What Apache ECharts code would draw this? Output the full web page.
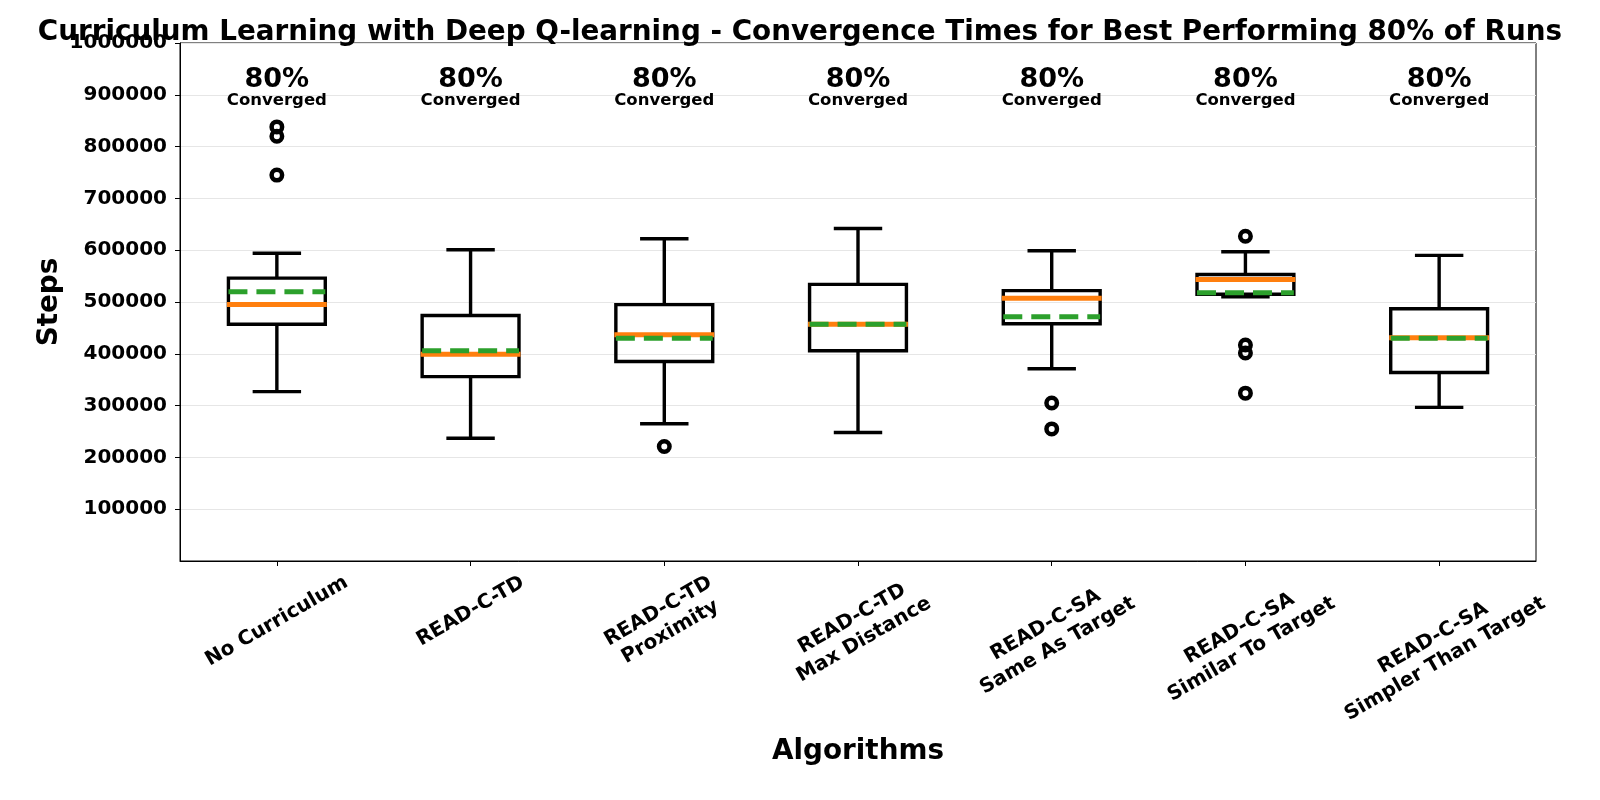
<!DOCTYPE html>
<html>
<head>
<meta charset="utf-8">
<script src="https://cdn.jsdelivr.net/npm/echarts@6/dist/echarts.min.js"></script>
<style>
  html, body { margin: 0; padding: 0; background: #fff; }
  #chart { width: 1600px; height: 800px; }
</style>
</head>
<body>
<div id="chart"></div>
<script>
// ---------------- data ----------------
const categories = [
  'No Curriculum',
  'READ-C-TD',
  'READ-C-TD\nProximity',
  'READ-C-TD\nMax Distance',
  'READ-C-SA\nSame As Target',
  'READ-C-SA\nSimilar To Target',
  'READ-C-SA\nSimpler Than Target'
];
const whiskerLow  = [327000, 237000, 265000, 248000, 371000, 510000, 296500];
const q1          = [457000, 356000, 385000, 406000, 458000, 515000, 364000];
const median      = [495000, 399000, 437000, 457000, 507000, 543500, 431000];
const q3          = [546000, 474000, 495000, 534000, 522000, 553000, 487000];
const whiskerHigh = [594000, 601000, 622000, 642000, 599000, 597000, 590000];
const mean        = [520000, 406000, 430000, 457000, 471500, 518000, 430000];
const outlierCategory = [0, 0, 0, 2, 4, 4, 5, 5, 5, 5];
const outlierValue    = [838000, 820000, 745000, 221000, 305000, 255000, 627000, 417000, 401500, 324000];
const convergedPct = ['80%', '80%', '80%', '80%', '80%', '80%', '80%'];
const yTicks = [100000, 200000, 300000, 400000, 500000, 600000, 700000, 800000, 900000, 1000000];

// ---------------- layout helpers ----------------
const FONT = 'DejaVu Sans';
const PCT_Y = 928000;      // annotation anchor (axis units)
const CONV_Y = 888000;
const LABEL_FS = 20, LABEL_LH = 24, LABEL_PAD = 9.7;
const rad = Math.PI / 6;
const ctx = document.createElement('canvas').getContext('2d');
ctx.font = 'bold ' + LABEL_FS + 'px "' + FONT + '"';
// matplotlib centres the rotated label box on the tick, its top at a fixed pad below the axis
const labelInfo = categories.map(c => {
  const lines = c.split('\n');
  const W = Math.max.apply(null, lines.map(l => ctx.measureText(l).width));
  const H = lines.length * LABEL_LH;
  const hb = W * Math.sin(rad) + H * Math.cos(rad);
  return { d: LABEL_PAD + hb / 2, H: H };
});
const baseMargin = Math.min.apply(null, labelInfo.map(o => o.d - o.H / (2 * Math.cos(rad)))) - 1;
const xData = categories.map((c, i) => {
  const D = labelInfo[i].d - baseMargin;
  return {
    value: c,
    textStyle: {
      align: 'center', verticalAlign: 'top',
      fontFamily: FONT, fontWeight: 'bold', fontSize: LABEL_FS, lineHeight: LABEL_LH, color: '#000',
      padding: [Math.cos(rad) * D - labelInfo[i].H / 2, D, 0, 0]
    }
  };
});

const boxData = categories.map((c, i) => [i, whiskerLow[i], q1[i], median[i], q3[i], whiskerHigh[i], mean[i]]);
const outlierData = outlierCategory.map((c, k) => [c, outlierValue[k]]);

const chart = echarts.init(document.getElementById('chart'), null, { renderer: 'canvas' });

const option = {
  animation: false,
  textStyle: { fontFamily: FONT },
  title: {
    text: 'Curriculum Learning with Deep Q-learning - Convergence Times for Best Performing 80% of Runs',
    left: 'center',
    top: 14,
    textStyle: { fontFamily: FONT, fontWeight: 'bold', fontSize: 27.8, color: '#000' }
  },
  grid: {
    left: 180, right: 64, top: 43, bottom: 239,
    show: true, borderColor: '#000', borderWidth: 1, backgroundColor: 'transparent',
    containLabel: false, outerBoundsMode: 'none'
  },
  xAxis: {
    type: 'category',
    data: xData,
    boundaryGap: true,
    name: 'Algorithms',
    nameLocation: 'middle',
    nameGap: 177,
    nameMoveOverlap: false,
    nameTextStyle: { fontFamily: FONT, fontWeight: 'bold', fontSize: 27.8, color: '#000' },
    axisLine: { show: true, lineStyle: { color: '#000', width: 1 } },
    axisTick: { show: true, alignWithLabel: true, length: 5, lineStyle: { color: '#000', width: 1 } },
    axisLabel: {
      interval: 0, rotate: 30, margin: baseMargin, hideOverlap: false,
      align: 'center', verticalAlign: 'top',
      fontFamily: FONT, fontWeight: 'bold', fontSize: LABEL_FS, lineHeight: LABEL_LH, color: '#000'
    },
    splitLine: { show: false }
  },
  yAxis: {
    type: 'value',
    min: 0, max: 1000000, interval: 100000,
    name: 'Steps',
    nameLocation: 'middle',
    nameGap: 116,
    nameMoveOverlap: false,
    nameTextStyle: { fontFamily: FONT, fontWeight: 'bold', fontSize: 27.8, color: '#000' },
    axisLine: { show: true, lineStyle: { color: '#000', width: 1 } },
    axisTick: { show: true, length: 5, customValues: yTicks, lineStyle: { color: '#000', width: 1 } },
    axisLabel: {
      margin: 13,
      customValues: yTicks,
      fontFamily: FONT, fontWeight: 'bold', fontSize: 20, color: '#000',
      formatter: v => (yTicks.indexOf(v) >= 0 ? String(v) : '')
    },
    splitLine: { show: true, lineStyle: { color: '#e6e6e6', width: 1 } }
  },
  series: [
    {
      type: 'custom',
      silent: true,
      data: boxData,
      encode: { x: 0, y: [1, 2, 3, 4, 5, 6] },
      renderItem: function (params, api) {
        const i = api.value(0);
        const pLo = api.coord([i, api.value(1)]);
        const pQ1 = api.coord([i, api.value(2)]);
        const pMed = api.coord([i, api.value(3)]);
        const pQ3 = api.coord([i, api.value(4)]);
        const pHi = api.coord([i, api.value(5)]);
        const pMean = api.coord([i, api.value(6)]);
        const band = api.size([1, 0])[0];
        const bw = band * 0.5, cw = band * 0.25;
        const x = pLo[0];
        const black = { stroke: '#000', lineWidth: 3.4, fill: null };
        return {
          type: 'group',
          children: [
            { type: 'line', shape: { x1: x, y1: pQ3[1], x2: x, y2: pHi[1] }, style: black },
            { type: 'line', shape: { x1: x, y1: pQ1[1], x2: x, y2: pLo[1] }, style: black },
            { type: 'line', shape: { x1: x - cw / 2, y1: pHi[1], x2: x + cw / 2, y2: pHi[1] }, style: black },
            { type: 'line', shape: { x1: x - cw / 2, y1: pLo[1], x2: x + cw / 2, y2: pLo[1] }, style: black },
            { type: 'rect', shape: { x: x - bw / 2, y: pQ3[1], width: bw, height: pQ1[1] - pQ3[1] },
              style: { stroke: '#000', lineWidth: 3.4, fill: 'none' } },
            { type: 'line', shape: { x1: x - bw / 2 - 1.5, y1: pMed[1], x2: x + bw / 2 + 1.5, y2: pMed[1] },
              style: { stroke: '#ff7f0e', lineWidth: 5 } },
            { type: 'line', shape: { x1: x - bw / 2, y1: pMean[1], x2: x + bw / 2, y2: pMean[1] },
              style: { stroke: '#2ca02c', lineWidth: 5, lineDash: [19, 9] } }
          ]
        };
      },
      z: 3
    },
    {
      type: 'scatter',
      silent: true,
      data: outlierData,
      symbol: 'circle',
      symbolSize: 10.5,
      itemStyle: { color: 'rgba(0,0,0,0)', borderColor: '#000', borderWidth: 4.5, opacity: 1 },
      z: 4
    },
    {
      type: 'scatter',
      silent: true,
      data: categories.map((c, i) => [i, PCT_Y]),
      symbolSize: 0,
      itemStyle: { opacity: 1 },
      label: {
        show: true, position: 'inside',
        formatter: p => convergedPct[p.dataIndex],
        fontFamily: FONT, fontWeight: 'bold', fontSize: 27, color: '#000'
      },
      z: 5
    },
    {
      type: 'scatter',
      silent: true,
      data: categories.map((c, i) => [i, CONV_Y]),
      symbolSize: 0,
      itemStyle: { opacity: 1 },
      label: {
        show: true, position: 'inside',
        formatter: 'Converged',
        fontFamily: FONT, fontWeight: 'bold', fontSize: 16.5, color: '#000'
      },
      z: 5
    }
  ]
};
chart.setOption(option);
</script>
</body>
</html>
